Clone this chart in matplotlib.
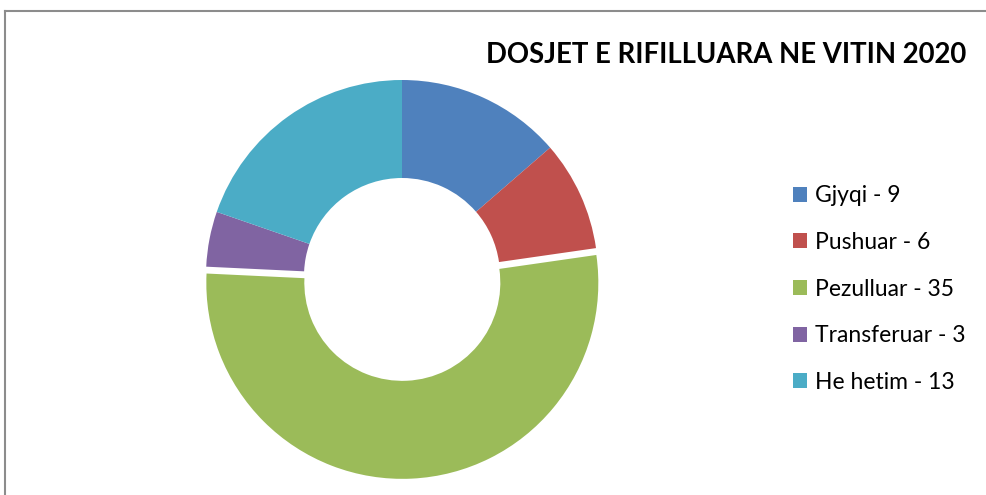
import matplotlib
matplotlib.use("Agg")
import matplotlib.pyplot as plt
from matplotlib.lines import Line2D

categories = ["Gjyqi", "Pushuar", "Pezulluar", "Transferuar", "He hetim"]
values = [9, 6, 35, 3, 13]
colors = ["#4F81BD", "#C0504D", "#9BBB59", "#8064A2", "#4BACC6"]
explode = [0, 0, 0.035, 0, 0]
title = "DOSJET E RIFILLUARA NE VITIN 2020"

W, H = 987, 495
fig = plt.figure(figsize=(W / 100, H / 100), dpi=100)
fig.patch.set_facecolor("white")

cx, cy, r = 402, 276, 196
half = 230
ax = fig.add_axes([(cx - half) / W, (H - cy - half) / H, 2 * half / W, 2 * half / H])
wedges, _ = ax.pie(values, colors=colors, startangle=90, counterclock=False,
                   explode=explode, radius=1,
                   wedgeprops=dict(width=0.5, linewidth=0))
lim = half / r
ax.set_xlim(-lim, lim)
ax.set_ylim(-lim, lim)
ax.set_aspect("equal")
ax.axis("off")

fig.text(726 / W, 1 - 55 / H, title, ha="center", va="center",
         fontsize=19.8, fontweight="bold", family="Lato")

labels = [f"{c} - {v}" for c, v in zip(categories, values)]
leg = fig.legend(wedges, labels, loc="center left",
                 bbox_to_anchor=(772 / W, 1 - 289 / H), frameon=False,
                 prop=dict(family="Lato", size=16.5), handlelength=0.62,
                 handleheight=0.62, handletextpad=0.35, labelspacing=1.12)

# outer border (top and left)
fig.add_artist(Line2D([5 / W, 1.0], [1 - 10.5 / H, 1 - 10.5 / H], color="#8C8C8C", lw=1.5))
fig.add_artist(Line2D([5 / W, 5 / W], [0, 1 - 10.5 / H], color="#8C8C8C", lw=1.5))

fig.savefig("out.png", dpi=100, facecolor="white")
